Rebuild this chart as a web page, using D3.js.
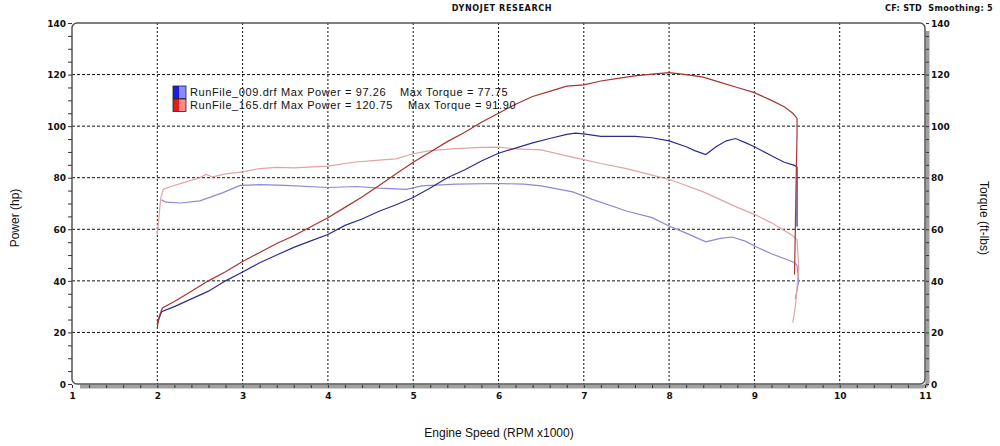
<!DOCTYPE html>
<html>
<head>
<meta charset="utf-8">
<script src="https://cdn.jsdelivr.net/npm/d3@7/dist/d3.min.js"></script>
<style>
  body { margin:0; background:#fff; }
  #canvas { width:1000px; height:446px; }
  .tickLbl { font-family:"DejaVu Sans", sans-serif; font-weight:bold; font-size:9px; fill:#111; }
  .axTitle { font-family:"Liberation Sans", sans-serif; font-size:12px; fill:#111; }
  .legend { font-family:"Liberation Sans", sans-serif; font-size:11px; letter-spacing:0.6px; fill:#111; }
  .hdr { font-family:"DejaVu Sans Condensed", sans-serif; font-weight:bold; font-size:9px; fill:#111; white-space:pre; }
</style>
</head>
<body>
<div id="canvas" class="canvas"></div>
<script>
// dyno sheet: power + torque for two run files
var runNames = ['RunFile_009.drf', 'RunFile_165.drf'];
var maxPower = ['97.26', '120.75'];
var maxTorque = ['77.75', '91.90'];

// run 009 (blue)
var rpm009P = [2.00,2.05,2.2,2.4,2.6,2.8,3.0,3.2,3.4,3.6,3.8,4.0,4.2,4.4,4.6,4.8,5.0,5.2,5.4,5.6,5.8,6.0,6.2,6.4,6.6,6.8,6.9,7.0,7.2,7.4,7.6,7.8,8.0,8.2,8.3,8.43,8.55,8.67,8.78,8.9,9.0,9.2,9.35,9.47,9.5,9.5,9.5];
var pow009  = [23.5,28,30,33,36,40,43.4,47,50,53,55.5,58,61.5,64,67,69.5,72.3,76,80,83,86.5,89.5,91.5,93.5,95.2,96.8,97.26,97,96,96,96,95.5,94.3,92,90.5,89,92,94.3,95.2,93.5,92,88.5,86,84.8,84,70,61];
var rpm009T = [2.05,2.1,2.27,2.5,2.77,2.97,3.2,3.5,4.0,4.34,4.6,4.92,5.1,5.5,6.0,6.3,6.5,6.87,7.1,7.5,7.8,8.0,8.2,8.43,8.6,8.74,8.9,9.0,9.2,9.47,9.5,9.52,9.48];
var torq009 = [71.4,70.5,70.2,71,74.2,77,77.3,77,76.2,76.6,76,75.5,76.8,77.5,77.75,77.5,76.8,74.5,71.6,67.1,64.5,61.3,58.5,55.1,56.5,57,55.3,53.5,50.5,47.1,46,40,33];

// run 165 (red)
var rpm165P = [2.00,2.02,2.06,2.2,2.4,2.6,2.8,3.0,3.2,3.4,3.6,3.8,4.0,4.2,4.4,4.6,4.8,5.0,5.2,5.4,5.6,5.8,6.0,6.2,6.4,6.6,6.8,7.0,7.2,7.4,7.6,7.8,8.0,8.2,8.4,8.6,8.8,9.0,9.2,9.35,9.45,9.5,9.5,9.49,9.48,9.47];
var pow165  = [22,26,29.5,32,36,40,43.5,47.5,51,54.5,57.5,61,64.5,68.5,72.5,77,81.5,86,90,94,97.5,101.5,105,108.5,111.5,113.5,115.5,116,117.5,118.5,119.5,120.2,120.75,120,119,117,115,113,110,107.5,105,103,97,80,60,42.5];
var rpm165T = [2.00,2.02,2.04,2.07,2.15,2.3,2.5,2.57,2.65,2.8,3.0,3.2,3.4,3.6,4.0,4.3,4.6,4.8,5.0,5.2,5.5,5.8,6.0,6.2,6.5,6.8,7.0,7.2,7.5,7.8,8.0,8.2,8.4,8.6,8.8,9.0,9.2,9.35,9.45,9.5,9.52,9.48,9.45];
var torq165 = [58,65,72,75.5,76.5,78,80,81.3,80.3,81.5,82.3,83.5,84,83.8,84.5,86,86.8,87.3,89.3,90.5,91.3,91.8,91.9,91.2,90.8,88.5,87,85.5,83.5,81,79.3,77,74.5,71.5,68.5,65.8,62.5,59.5,57.5,56,45,30,23.8];

var xTicks = d3.range(1, 12);
var yTicks = d3.range(0, 141, 20);

var m = {t:23, r:75, b:62, l:72};
var outerWidth = 1000, outerHeight = 446;
var w = outerWidth - m.l - m.r,
    h = outerHeight - m.t - m.b;

var svg = d3.select('.canvas')
    .append('svg')
    .attr('width', outerWidth)
    .attr('height', outerHeight);

var plot = svg.append('g')
    .attr('transform', 'translate(' + m.l + ',' + m.t + ')');

var x = d3.scaleLinear().domain([1, 11]).range([0, w]);
var y = d3.scaleLinear().domain([0, 140]).range([h, 0]);

// grid
plot.selectAll('.hgrid')
    .data(yTicks.filter(function(d){ return d > 0 && d < 140; }))
  .enter().append('line')
    .attr('x1', 0).attr('x2', w)
    .attr('y1', function(d){ return y(d); })
    .attr('y2', function(d){ return y(d); })
    .attr('stroke', '#111').attr('stroke-width', 1)
    .attr('stroke-dasharray', '3,2');

plot.selectAll('.vgrid')
    .data(xTicks.filter(function(d){ return d > 1 && d < 11; }))
  .enter().append('line')
    .attr('y1', 0).attr('y2', h)
    .attr('x1', function(d){ return x(d); })
    .attr('x2', function(d){ return x(d); })
    .attr('stroke', '#111').attr('stroke-width', 1)
    .attr('stroke-dasharray', '2,2');

// frame with grey shadow on right + bottom
var r = 5;
plot.append('path')
    .attr('d', 'M' + (w + 2.5) + ',' + (r + 3) + ' V' + (h + 2.5 - r) +
               ' Q' + (w + 2.5) + ',' + (h + 2.5) + ' ' + (w + 2.5 - r) + ',' + (h + 2.5) +
               ' H' + (r + 3))
    .attr('fill', 'none').attr('stroke', '#a0a0a0').attr('stroke-width', 4);

plot.append('rect')
    .attr('x', 0).attr('y', 0).attr('width', w).attr('height', h)
    .attr('rx', r).attr('ry', r)
    .attr('fill', 'none').attr('stroke', '#555').attr('stroke-width', 1.5);

// axes
var yLeft = d3.axisLeft(y).tickValues(d3.range(0, 141, 5)).tickSize(4)
    .tickFormat(function(d){ return d % 20 === 0 ? d : ''; });
var gl = plot.append('g').call(yLeft);
gl.select('.domain').remove();
gl.selectAll('line').attr('stroke', '#333');
gl.selectAll('text').attr('class', 'tickLbl').attr('x', -6).attr('dy', '0.35em');

var yRight = d3.axisRight(y).tickValues(d3.range(0, 141, 5)).tickSize(3)
    .tickFormat(function(d){ return d % 20 === 0 ? d : ''; });
var gr = plot.append('g').attr('transform', 'translate(' + (w + 1) + ',0)').call(yRight);
gr.select('.domain').remove();
gr.selectAll('line').attr('stroke', '#333');
gr.selectAll('text').attr('class', 'tickLbl').attr('x', 5).attr('dy', '0.35em');

var xAxis = d3.axisBottom(x).tickValues(d3.range(1, 11.01, 0.2)).tickSize(3)
    .tickFormat(function(d){ return Math.abs(d - Math.round(d)) < 0.01 ? Math.round(d) : ''; });
var gx = plot.append('g').attr('transform', 'translate(0,' + (h + 1) + ')').call(xAxis);
gx.select('.domain').remove();
gx.selectAll('line').attr('stroke', '#333');
gx.selectAll('text').attr('class', 'tickLbl').attr('y', 8);

// curves
var line = d3.line()
    .x(function(d){ return x(d[0]); })
    .y(function(d){ return y(d[1]); });

var series = [
  {rpm: rpm009T, val: torq009, color: '#8a8ad0'},
  {rpm: rpm165T, val: torq165, color: '#e3a3a3'},
  {rpm: rpm009P, val: pow009,  color: '#2c2c90'},
  {rpm: rpm165P, val: pow165,  color: '#a83434'}
];

series.forEach(function(s){
  plot.append('path')
      .datum(d3.zip(s.rpm, s.val))
      .attr('d', line)
      .attr('fill', 'none')
      .attr('stroke', s.color)
      .attr('stroke-width', 1.2);
});

// legend
var legCols = [['#1e1ed8', '#8a8aff'], ['#e01e1e', '#ff8a8a']];
runNames.forEach(function(name, i){
  var ly = 86 + i * 13;
  var g = svg.append('g');
  g.append('rect').attr('x', 173).attr('y', ly).attr('width', 6.5).attr('height', 12.5).attr('fill', legCols[i][0]);
  g.append('rect').attr('x', 179.5).attr('y', ly).attr('width', 6.5).attr('height', 12.5).attr('fill', legCols[i][1]);
  g.append('rect').attr('x', 173).attr('y', ly).attr('width', 13).attr('height', 12.5)
      .attr('fill', 'none').attr('stroke', '#222').attr('stroke-width', 0.8);
  g.append('text').attr('class', 'legend').attr('x', 190).attr('y', ly + 9.5)
      .text(name + ' Max Power = ' + maxPower[i]);
  g.append('text').attr('class', 'legend').attr('x', 400 + i * 8).attr('y', ly + 9.5)
      .text('Max Torque = ' + maxTorque[i]);
});

// titles
svg.append('text').attr('class', 'hdr').attr('x', 502).attr('y', 11).attr('text-anchor', 'middle')
    .style('letter-spacing', '0.6px').text('DYNOJET RESEARCH');
svg.append('text').attr('class', 'hdr').attr('x', 993).attr('y', 11).attr('text-anchor', 'end')
    .style('letter-spacing', '0.3px').text('CF: STD  Smoothing: 5');

svg.append('text').attr('class', 'axTitle').attr('text-anchor', 'middle')
    .attr('transform', 'translate(19,218) rotate(-90)').text('Power (hp)');
svg.append('text').attr('class', 'axTitle').attr('text-anchor', 'middle')
    .attr('transform', 'translate(980,218) rotate(90)').text('Torque (ft-lbs)');
svg.append('text').attr('class', 'axTitle').attr('text-anchor', 'middle')
    .attr('x', 499).attr('y', 437).text('Engine Speed (RPM x1000)');
</script>
</body>
</html>
